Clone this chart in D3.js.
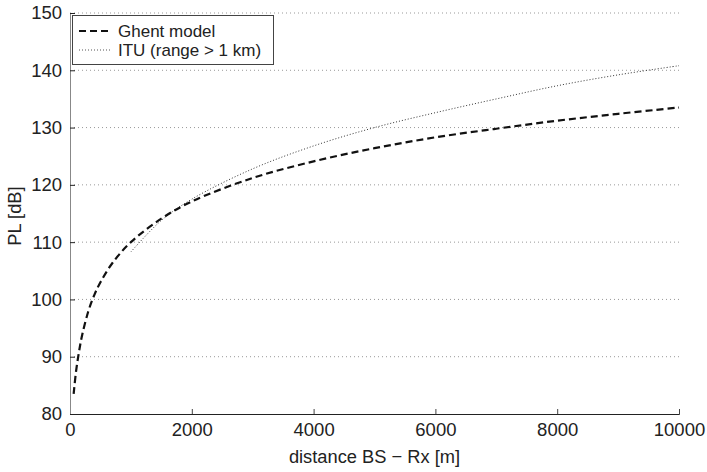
<!DOCTYPE html>
<meta charset="utf-8">
<style>
  body { margin: 0; background: #fff; }
  text { font-family: "Liberation Sans", Arial, sans-serif; fill: #222; }
  .grid_line { stroke: #999; stroke-dasharray: 1,3; }
</style>
<script src="https://d3js.org/d3.v7.min.js"></script>
<div id="my_dataviz"></div>
<script>

// values
var ghentDist = [60, 100, 150, 200, 300, 400, 500, 700, 1000, 1500, 2000, 3000, 4000, 5000, 6000, 7000, 8000, 9000, 10000]
var ghentPL   = [83.5, 87.5, 91.0, 93.8, 97.9, 100.8, 103.0, 106.4, 110.0, 114.1, 117.1, 121.2, 124.1, 126.4, 128.3, 129.8, 131.2, 132.4, 133.5]
var ituDist = [1000, 1500, 2000, 3000, 4000, 5000, 6000, 7000, 8000, 9000, 10000]
var ituPL   = [108.3, 113.8, 117.5, 122.8, 126.8, 130.0, 132.6, 135.0, 137.3, 139.2, 140.8]
var xTicks = [0, 2000, 4000, 6000, 8000, 10000]
var yTicks = [80, 90, 100, 110, 120, 130, 140, 150]
var seriesNames = ["Ghent model", "ITU (range > 1 km)"]

var margin = {top: 13, right: 28, bottom: 58, left: 70},
    width = 707 - margin.left - margin.right,
    height = 472 - margin.top - margin.bottom;

var svg = d3.select("#my_dataviz")
  .append("svg")
    .attr("width", 707)
    .attr("height", 472)
  .append("g")
    .attr("transform", "translate(" + margin.left + "," + margin.top + ")");

var x = d3.scaleLinear().domain([0, 10000]).range([0, width]);
var y = d3.scaleLinear().domain([80, 150]).range([height, 0]);

// horizontal dotted grid
svg.selectAll("gridLines")
  .data(yTicks.slice(1))
  .enter()
  .append("line")
    .attr("class", "grid_line")
    .attr("x1", 0)
    .attr("x2", width)
    .attr("y1", function(d){ return y(d) })
    .attr("y2", function(d){ return y(d) })

// axes
var xAxis = svg.append("g")
  .attr("transform", "translate(0," + height + ")")
  .call(d3.axisBottom(x).tickValues(xTicks).tickSize(-5).tickPadding(9).tickFormat(d3.format("d")))
xAxis.select(".domain").attr("stroke", "#222")
xAxis.selectAll(".tick line").attr("stroke", "#444")
xAxis.selectAll("text").style("font-size", "18.5px").style("font-family", "Liberation Sans, Arial").attr("fill", "#222")

var yAxis = svg.append("g")
  .call(d3.axisLeft(y).tickValues(yTicks).tickSize(-5).tickPadding(8))
yAxis.select(".domain").attr("stroke", "#888")
yAxis.selectAll(".tick line").attr("stroke", "#222")
yAxis.selectAll("text").style("font-size", "18.5px").style("font-family", "Liberation Sans, Arial").attr("fill", "#222")

// axis titles
svg.append("text")
  .attr("x", width / 2)
  .attr("y", height + 49)
  .attr("text-anchor", "middle")
  .style("font-size", "18.3px")
  .text("distance BS \u2212 Rx [m]");

svg.append("text")
  .attr("transform", "rotate(-90)")
  .attr("x", -(216 - margin.top))
  .attr("y", -margin.left + 21)
  .attr("text-anchor", "middle")
  .style("font-size", "18.3px")
  .text("PL [dB]");

// lines
var line = d3.line()
  .x(function(d) { return x(d[0]) })
  .y(function(d) { return y(d[1]) })
  .curve(d3.curveCatmullRom.alpha(0.5))

svg.append("path")
  .datum(ituDist.map(function(d, i){ return [d, ituPL[i]] }))
  .attr("d", line)
  .attr("fill", "none")
  .attr("stroke", "#333")
  .attr("stroke-width", 1)
  .attr("stroke-dasharray", "1,2")

svg.append("path")
  .datum(ghentDist.map(function(d, i){ return [d, ghentPL[i]] }))
  .attr("d", line)
  .attr("fill", "none")
  .attr("stroke", "#111")
  .attr("stroke-width", 2.2)
  .attr("stroke-dasharray", "7,4")

// legend
var legend = svg.append("g").attr("transform", "translate(2,2)")
legend.append("rect")
  .attr("x", 0.5).attr("y", 0.5)
  .attr("width", 201).attr("height", 49)
  .attr("fill", "white")
  .attr("stroke", "#444")
  .attr("stroke-width", 1)

legend.selectAll("legendLines")
  .data(seriesNames)
  .enter()
  .append("line")
    .attr("x1", 7).attr("x2", 38)
    .attr("y1", function(d,i){ return 16 + i*19 })
    .attr("y2", function(d,i){ return 16 + i*19 })
    .attr("stroke", function(d,i){ return i == 0 ? "#111" : "#555" })
    .attr("stroke-width", function(d,i){ return i == 0 ? 2.2 : 1 })
    .attr("stroke-dasharray", function(d,i){ return i == 0 ? "7,4" : "1,2" })

legend.selectAll("legendLabels")
  .data(seriesNames)
  .enter()
  .append("text")
    .attr("x", 46)
    .attr("y", function(d,i){ return 22 + i*19 })
    .style("font-size", "17px")
    .text(function(d){ return d })

</script>
